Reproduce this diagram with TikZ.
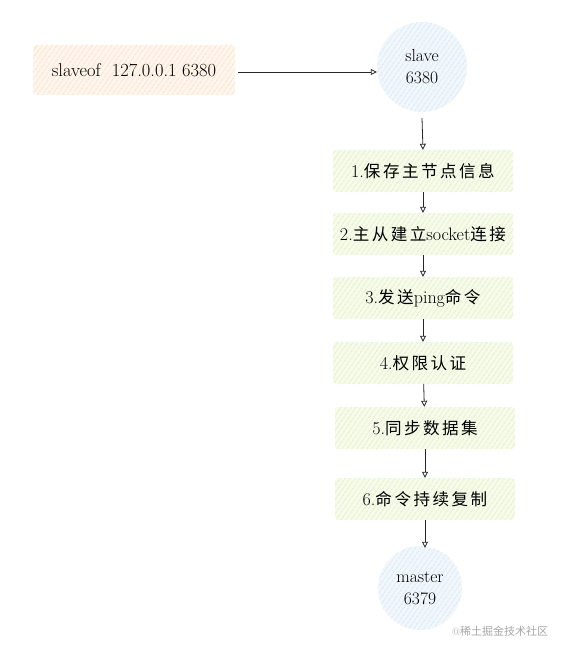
\documentclass[tikz,border=0pt]{standalone}
\usepackage{fontspec}
\newfontfamily\cjk[LetterSpace=15,Scale=0.92]{Noto Sans CJK SC}
\newfontfamily\cjkwm{Noto Sans CJK SC}
\usetikzlibrary{patterns.meta,arrows.meta}
\definecolor{orfill}{HTML}{FFF6EE}
\definecolor{orline}{HTML}{F8D0AC}
\definecolor{blfill}{HTML}{F2F7FC}
\definecolor{blline}{HTML}{C8DBEE}
\definecolor{grfill}{HTML}{F6FBEC}
\definecolor{grline}{HTML}{D2E8A6}
\tikzset{
  hatch/.style 2 args={preaction={fill=#1},pattern={Lines[angle=55,distance=4pt,line width=0.9pt]},pattern color=#2},
  cmdbox/.style={hatch={orfill}{orline},rounded corners=3pt,minimum width=202pt,minimum height=50pt,inner sep=0pt,font=\fontsize{18.5}{22}\selectfont},
  stepbox/.style={hatch={grfill}{grline},rounded corners=3pt,minimum width=180pt,minimum height=42pt,inner sep=0pt,font=\fontsize{18}{22}\selectfont},
  redis/.style={circle,hatch={blfill}{blline},minimum size=#1,inner sep=0pt,align=center,font=\fontsize{17.5}{22}\selectfont},
  conn/.style={draw=black!85,line width=0.8pt,-{Triangle[open,length=6pt,width=6pt]}},
}
\begin{document}
\begin{tikzpicture}[x=1pt,y=-1pt]
\useasboundingbox (0,0) rectangle (571,655);
\node[cmdbox] (cmd) at (134,70) {slaveof\ \ 127.0.0.1 6380};
\node[redis=90pt] (slave) at (422,67) {slave\\6380};
\node[stepbox] (s1) at (423,171) {1.{\cjk 保存主节点信息}};
\node[stepbox] (s2) at (423,234) {2.{\cjk 主从建立}socket{\cjk 连接}};
\node[stepbox] (s3) at (423,298) {3.{\cjk 发送}ping{\cjk 命令}};
\node[stepbox] (s4) at (423,363) {4.{\cjk 权限认证}};
\node[stepbox] (s5) at (425,428) {5.{\cjk 同步数据集}};
\node[stepbox] (s6) at (425,499) {6.{\cjk 命令持续复制}};
\node[redis=84pt] (master) at (420,588) {master\\6379};
\node[text=black!35,font=\fontsize{11}{12}\selectfont] (wm) at (500,631) {@{\cjkwm 稀土掘金技术社区}};
\draw[conn] (cmd.east) ++(3,2) coordinate (c0) -- (slave.west |- c0);
\draw[conn] (slave.south) ++(0,6) -- (s1.north);
\draw[conn] (s1) -- (s2);
\draw[conn] (s2) -- (s3);
\draw[conn] (s3) -- (s4);
\draw[conn] (s4) -- (s5);
\draw[conn] (s5) -- (s6);
\draw[conn] (s6.south) -- ([yshift=-2pt]s6.south |- master.north);
\end{tikzpicture}
\end{document}
